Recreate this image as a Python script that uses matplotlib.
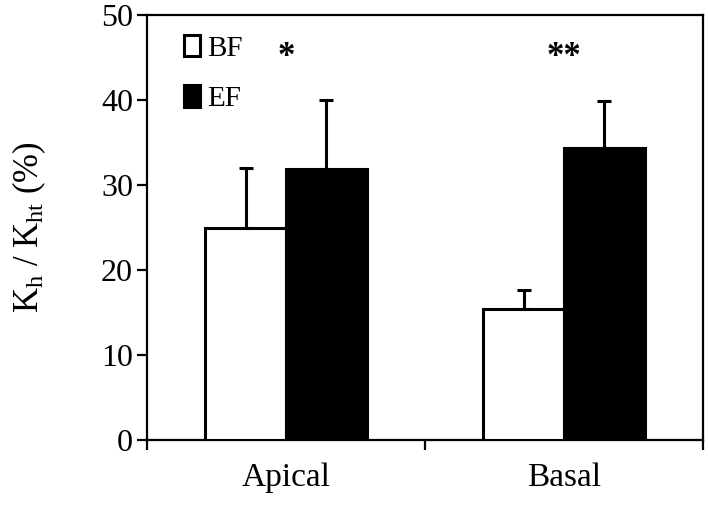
import matplotlib
matplotlib.use("Agg")
import matplotlib.pyplot as plt
import numpy as np

plt.rcParams["font.family"] = ["Liberation Serif", "DejaVu Serif"]
plt.rcParams["mathtext.fontset"] = "custom"
plt.rcParams["mathtext.rm"] = "Liberation Serif"
plt.rcParams["mathtext.it"] = "Liberation Serif:italic"

categories = ["Apical", "Basal"]
bf_values = [24.9, 15.4]
bf_errors = [7.1, 2.3]
ef_values = [31.9, 34.3]
ef_errors = [8.1, 5.6]
significance = ["*", "**"]
y_ticks = [0, 10, 20, 30, 40, 50]

x = np.arange(len(categories))
width = 0.29

fig = plt.figure(figsize=(7.08, 5.14), dpi=100)
ax = fig.add_axes([0.2076, 0.144, 0.7854, 0.827])

err_kw = dict(ecolor="black", elinewidth=2.2, capsize=5, capthick=2.2)
ax.bar(x - width / 2, bf_values, width, color="white", edgecolor="black",
       linewidth=2.2, yerr=[np.zeros(2), bf_errors], error_kw=err_kw,
       label="BF", zorder=3)
ax.bar(x + width / 2, ef_values, width, color="black", edgecolor="black",
       linewidth=2.2, yerr=[np.zeros(2), ef_errors], error_kw=err_kw,
       label="EF", zorder=3)

for xi, mark in zip(x, significance):
    ax.text(xi, 45.0, mark, ha="center", va="center", fontsize=25,
            fontweight="bold")

ax.set_xlim(-0.5, 1.5)
ax.set_ylim(0, 50)
ax.set_yticks(y_ticks)
ax.set_xticks(x)
ax.set_xticklabels(categories, fontsize=24)
ax.set_xticks([-0.5, 0.5, 1.5], minor=True)
ax.tick_params(axis="x", which="major", length=0, pad=16)
ax.tick_params(axis="x", which="minor", length=7, width=1.6, direction="out")
ax.tick_params(axis="y", length=7, width=1.6, direction="out", labelsize=23,
               pad=3)
for spine in ax.spines.values():
    spine.set_linewidth(1.6)

ax.set_ylabel(r"K$_\mathregular{h}$ / K$_\mathregular{ht}$ (%)", fontsize=25,
              labelpad=38)

ax.legend(loc="upper left", bbox_to_anchor=(0.045, 0.98), frameon=False,
          fontsize=21, handlelength=0.55, handleheight=0.75, handletextpad=0.25,
          labelspacing=0.8, borderaxespad=0)

fig.savefig("out.png", dpi=100)
